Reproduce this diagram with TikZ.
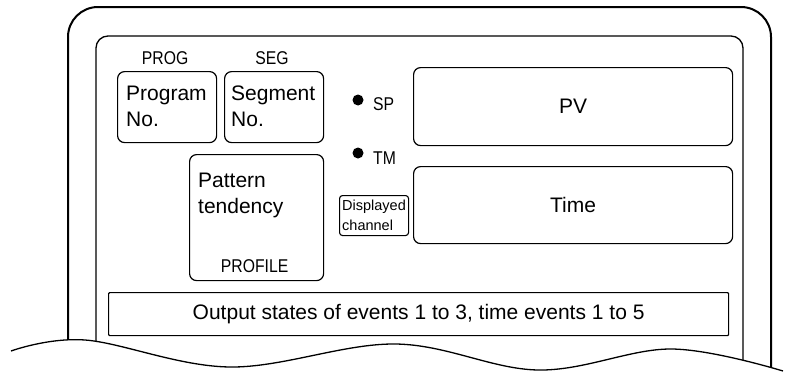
\documentclass[tikz,border=0pt]{standalone}
\usepackage{fontspec}
\setmainfont{Liberation Sans}
\newfontfamily\narrowfont{Liberation Sans}[FakeStretch=0.85]
\usetikzlibrary{positioning}
\tikzset{
  frame/.style={draw=black, line width=2pt},
  innerframe/.style={draw=black, line width=1.3pt},
  edge/.style={draw=black, line width=1.3pt},
  panel/.style={draw=black, line width=1.2pt, rounded corners=7pt, anchor=north west, inner sep=0pt},
  smallpanel/.style={draw=black, line width=1.1pt, rounded corners=3pt, anchor=north west, inner sep=0pt},
  bar/.style={draw=black, line width=1.2pt, rounded corners=1pt, anchor=north west, inner sep=0pt},
  bigtext/.style={font=\fontsize{21}{25.5}\selectfont, inner sep=0pt, align=left},
  smalltext/.style={font=\fontsize{14.5}{20}\selectfont, inner sep=0pt, align=left},
  tag/.style={font=\narrowfont\fontsize{18.5}{18.5}\selectfont, inner sep=0pt},
  lamp/.style={circle, fill=black, inner sep=0pt, minimum size=11pt}
}

\begin{document}
\begin{tikzpicture}[x=1pt, y=-1pt]
  \useasboundingbox (0,0) rectangle (788,372);

  \coordinate (w1) at (11,351);
  \coordinate (w2) at (85,340);
  \coordinate (w3) at (230,367);
  \coordinate (w4) at (395,344);
  \coordinate (w5) at (538,370);
  \coordinate (w6) at (671,349);
  \coordinate (w7) at (783,371);

  \begin{scope}
    \clip (0,0) -- (w1) -- plot[smooth, tension=0.6] coordinates {(w1) (w2) (w3) (w4) (w5) (w6) (w7)} -- (788,372) -- (788,0) -- cycle;
    \draw[frame, rounded corners=30pt] (68,420) -- (68,7) -- (771,7) -- (771,420);
    \draw[innerframe, rounded corners=12pt] (96,420) -- (96,36) -- (743,36) -- (743,420);
  \end{scope}
  \draw[edge] plot[smooth, tension=0.6] coordinates {(w1) (w2) (w3) (w4) (w5) (w6) (w7)};

  \node[panel, minimum width=99pt, minimum height=71pt] (prog) at (117,71) {};
  \node[panel, minimum width=99pt, minimum height=71pt] (seg) at (224,71) {};
  \node[panel, minimum width=134pt, minimum height=126pt] (pattern) at (189,154) {};
  \node[panel, minimum width=319pt, minimum height=78pt] (pv) at (413,67) {};
  \node[panel, minimum width=319pt, minimum height=77pt] (time) at (413,166) {};
  \node[smallpanel, minimum width=69pt, minimum height=40pt] (chan) at (339,195) {};
  \node[bar, minimum width=620pt, minimum height=43pt] (events) at (108,292) {};

  \node[tag, anchor=base] (progtag) at ([xshift=-2pt, yshift=7pt]prog.north) {PROG};
  \node[tag, anchor=base] (segtag) at ([xshift=-2pt, yshift=7pt]seg.north) {SEG};
  \node[tag, anchor=base] (proftag) at ([xshift=-2pt, yshift=9pt]pattern.south) {PROFILE};

  \node[bigtext, anchor=north west] (progtxt) at ([shift={(9,15)}]prog.north west) {Program\\No.};
  \node[bigtext, anchor=north west] (segtxt) at ([shift={(7,15)}]seg.north west) {Segment\\No.};
  \node[bigtext, anchor=north west] (pattxt) at ([shift={(9,19)}]pattern.north west) {Pattern\\tendency};
  \node[bigtext] (pvtxt) at (pv.center) {PV};
  \node[bigtext] (timetxt) at (time.center) {Time};
  \node[smalltext, anchor=north west] (chantxt) at ([shift={(3,5)}]chan.north west) {Displayed\\channel};
  \node[bigtext] (eventtxt) at (events.center) {Output states of events 1 to 3, time events 1 to 5};

  \node[lamp] (splamp) at (358,100) {};
  \node[lamp] (tmlamp) at (358,153) {};
  \node[tag, anchor=base west] (sptag) at (373,110) {SP};
  \node[tag, anchor=base west] (tmtag) at (373,164) {TM};
\end{tikzpicture}
\end{document}
